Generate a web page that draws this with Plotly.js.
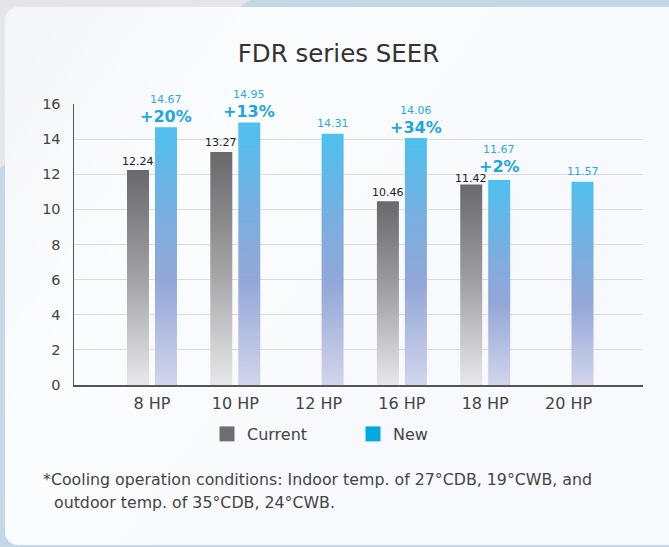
<!DOCTYPE html>
<html>
<head>
<meta charset="utf-8">
<script src="https://cdn.plot.ly/plotly-3.0.1.min.js"></script>
<style>
  html, body { margin:0; padding:0; width:669px; height:547px; overflow:hidden; background:#c5d8e8; }
  #bg { position:absolute; left:0; top:0; width:669px; height:547px; }
  #card { position:absolute; left:5px; top:7px; width:700px; height:538px; border-radius:13px;
          background: linear-gradient(125deg, #f4f5f7 0%, #fbfcfd 28%, #f8f9fc 60%, #f8f9fc 100%); }
  #chart { position:absolute; left:0; top:0; width:669px; height:547px; }
</style>
</head>
<body>
<svg id="bg" width="669" height="547"><polygon points="0,0 250,0 0,168" fill="#e6e6e8"/></svg>
<div id="card"></div>
<div id="chart"></div>
<script>
// ---- data ----
const categories = ['8 HP', '10 HP', '12 HP', '16 HP', '18 HP', '20 HP'];
const currentVals = [12.24, 13.27, null, 10.46, 11.42, null];
const newVals = [14.67, 14.95, 14.31, 14.06, 11.67, 11.57];
const pctLabels = ['+20%', '+13%', '', '+34%', '+2%', ''];
const yTicks = [0, 2, 4, 6, 8, 10, 12, 14, 16];

const FONT = 'DejaVu Sans, sans-serif';
const W = 0.264, OFF = 0.168;

const traces = [
  { type:'bar', name:'Current', x:categories, y:currentVals, width:W, offset:-OFF - W/2,
    marker:{ color:'#6e6e73', line:{width:0} }, hoverinfo:'skip' },
  { type:'bar', name:'New', x:categories, y:newVals, width:W, offset:OFF - W/2,
    marker:{ color:'#00a9df', line:{width:0} }, hoverinfo:'skip' }
];

const annotations = [];
categories.forEach((c, i) => {
  // when both bars are nearly the same height, labels are nudged apart
  const close = currentVals[i] != null && Math.abs(newVals[i] - currentVals[i]) < 0.5;
  if (currentVals[i] != null) {
    annotations.push({ xref:'x', yref:'y', x:i - OFF, y:currentVals[i], yanchor:'middle', yshift: close ? 6 : 9,
      text: currentVals[i].toFixed(2), showarrow:false, font:{family:FONT, size:11, color:'#222'} });
  }
  if (pctLabels[i]) {
    annotations.push({ xref:'x', yref:'y', x:i + OFF, y:newVals[i], yanchor:'middle', yshift: close ? 14 : 10.5,
      text: '<b>' + pctLabels[i] + '</b>', showarrow:false, font:{family:FONT, size:16, color:'#1ea6df'} });
    annotations.push({ xref:'x', yref:'y', x:i + OFF, y:newVals[i], yanchor:'middle', yshift: close ? 31 : 28,
      text: newVals[i].toFixed(2), showarrow:false, font:{family:FONT, size:11, color:'#2aaae2'} });
  } else {
    annotations.push({ xref:'x', yref:'y', x:i + OFF, y:newVals[i], yanchor:'middle', yshift:10,
      text: newVals[i].toFixed(2), showarrow:false, font:{family:FONT, size:11, color:'#2aaae2'} });
  }
});
const foot1 = '*Cooling operation conditions: Indoor temp. of 27°CDB, 19°CWB, and';
const foot2 = 'outdoor temp. of 35°CDB, 24°CWB.';
annotations.push({ xref:'paper', yref:'paper', x:(41-74)/569, y:(385-479)/281, xanchor:'left', yanchor:'middle',
  text:foot1, showarrow:false, font:{family:FONT, size:15.8, color:'#444'} });
annotations.push({ xref:'paper', yref:'paper', x:(52-74)/569, y:(385-502)/281, xanchor:'left', yanchor:'middle',
  text:foot2, showarrow:false, font:{family:FONT, size:15.8, color:'#444'} });

const layout = {
  width:669, height:547,
  paper_bgcolor:'rgba(0,0,0,0)', plot_bgcolor:'rgba(0,0,0,0)',
  margin:{l:74, r:26, t:104, b:162},
  title:{ text:'FDR series SEER', x:338.5/669, xref:'container', y:1-53/547, yanchor:'middle', xanchor:'center',
    font:{family:FONT, size:24.5, color:'#333'} },
  barmode:'overlay',
  xaxis:{ type:'category', range:[-0.936, 5.894], showgrid:false, showline:true, linecolor:'#555', linewidth:1.5,
    ticks:'', ticklabelstandoff:3, tickfont:{family:FONT, size:16, color:'#444'}, fixedrange:true },
  yaxis:{ range:[0,16], tickvals:yTicks, showgrid:true, gridcolor:'#dcdcdc', gridwidth:1,
    showline:true, linecolor:'#555', linewidth:1.5, zeroline:false, ticks:'', ticklabelstandoff:9,
    tickfont:{family:FONT, size:14.5, color:'#444'}, fixedrange:true },
  showlegend:true,
  legend:{ orientation:'h', x:(207-74)/569, xanchor:'left', y:(385-434)/281, yanchor:'middle',
    entrywidth:101, font:{family:FONT, size:16, color:'#444'}, bgcolor:'rgba(0,0,0,0)' },
  annotations: annotations
};

Plotly.newPlot('chart', traces, layout, {displayModeBar:false, staticPlot:true}).then(gd => {
  const svg = gd.querySelector('.main-svg');
  let defs = svg.querySelector('defs');
  const NS = 'http://www.w3.org/2000/svg';
  function grad(id, stops) {
    const g = document.createElementNS(NS, 'linearGradient');
    g.setAttribute('id', id);
    g.setAttribute('x1','0'); g.setAttribute('y1','0'); g.setAttribute('x2','0'); g.setAttribute('y2','1');
    stops.forEach(([o, c]) => {
      const s = document.createElementNS(NS, 'stop');
      s.setAttribute('offset', o); s.setAttribute('stop-color', c);
      g.appendChild(s);
    });
    defs.appendChild(g);
  }
  grad('gCur', [[0,'#68686d'],[0.5,'#a2a2a4'],[1,'#e8e8ea']]);
  grad('gNew', [[0,'#4ec0ef'],[0.35,'#7aaee0'],[0.6,'#93a7d8'],[1,'#d2d5eb']]);
  const tr = gd.querySelectorAll('.barlayer .trace');
  tr.forEach((t, k) => {
    t.querySelectorAll('.point path').forEach(p => { p.style.fill = k === 0 ? 'url(#gCur)' : 'url(#gNew)'; });
  });
  gd.querySelectorAll('.legend .legendpoints path').forEach(p => p.setAttribute('d','M7.5,7.5H-7.5V-7.5H7.5Z'));
});
</script>
</body>
</html>
